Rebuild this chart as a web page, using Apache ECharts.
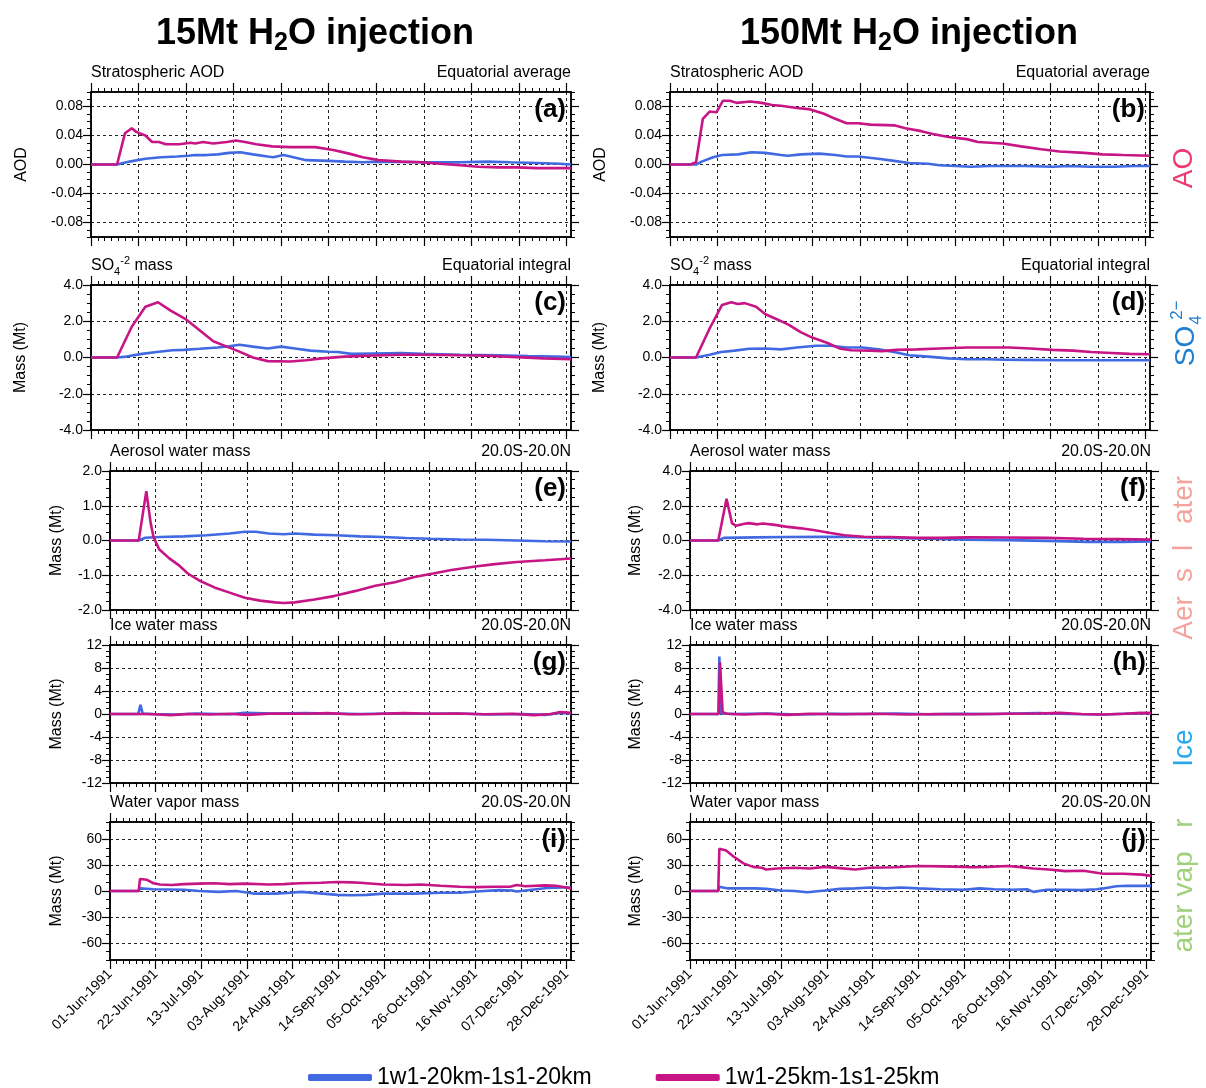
<!DOCTYPE html>
<html><head><meta charset="utf-8">
<script src="https://cdn.jsdelivr.net/npm/echarts@6/dist/echarts.min.js"></script>
<style>html,body{margin:0;padding:0;background:#fff}#c{width:1206px;height:1088px}</style>
</head><body><div id="c"></div>
<script>
// ---------------- data ----------------
const tickDays = [0,21,42,63,84,105,126,147,168,189,210];
const tickLabels = ['01-Jun-1991','22-Jun-1991','13-Jul-1991','03-Aug-1991','24-Aug-1991','14-Sep-1991','05-Oct-1991','26-Oct-1991','16-Nov-1991','07-Dec-1991','28-Dec-1991'];
const seriesNames = ['1w1-20km-1s1-20km','1w1-25km-1s1-25km'];

const yTicksAOD = [-0.08,-0.04,0,0.04,0.08];
const yTicksSO4 = [-4,-2,0,2,4];
const yTicksAW15 = [-2,-1,0,1,2];
const yTicksAW150 = [-4,-2,0,2,4];
const yTicksIce = [-12,-8,-4,0,4,8,12];
const yTicksWV = [-60,-30,0,30,60];

// [day since 01-Jun-1991, value]
const aodBlue15 = [[0,0],[11.5,0],[17,0.004],[24,0.008],[31,0.010],[38,0.011],[43,0.012],[46,0.013],[51,0.013],[56,0.014],[61,0.016],[66,0.017],[71.5,0.014],[78,0.011],[80.5,0.010],[85,0.013],[88,0.011],[95,0.006],[105,0.005],[112,0.004],[120,0.003],[128,0.004],[146,0.003],[163,0.003],[175,0.004],[185,0.003],[197,0.002],[207,0.001],[212,0]];
const aodMag15 = [[0,0],[11.5,0],[15,0.043],[18,0.050],[20,0.045],[24,0.040],[27,0.031],[30,0.031],[33,0.028],[39,0.028],[44,0.030],[46,0.029],[49.5,0.031],[54,0.029],[60,0.031],[64,0.033],[68,0.031],[73,0.028],[80,0.025],[88,0.024],[99,0.024],[107,0.020],[114,0.015],[120,0.010],[127,0.006],[137,0.004],[146,0.003],[154,0.001],[163,-0.001],[171,-0.003],[180,-0.004],[188,-0.004],[197,-0.005],[212,-0.005]];
const aodBlue150 = [[0,0],[11.5,0],[14,0.004],[19,0.010],[23,0.013],[30,0.014],[36,0.017],[42,0.016],[49,0.013],[52,0.012],[58,0.014],[66,0.015],[73,0.013],[78,0.011],[83,0.011],[92,0.008],[99,0.005],[105.6,0.002],[114,0.001],[119,-0.001],[126,-0.002],[133,-0.003],[141,-0.002],[157,-0.002],[169,-0.003],[176,-0.002],[186,-0.003],[196,-0.003],[205,-0.002],[212,-0.002]];
const aodMag150 = [[0,0],[9,0],[11.5,0.003],[14.5,0.063],[17.5,0.073],[20.5,0.072],[23.4,0.088],[26.5,0.088],[29.4,0.085],[35.4,0.087],[40.5,0.085],[45,0.082],[49,0.081],[56,0.078],[62,0.076],[68,0.070],[73,0.063],[78,0.057],[83,0.057],[88.5,0.055],[99,0.054],[104,0.050],[111,0.046],[116,0.042],[123,0.038],[131,0.035],[136,0.031],[147,0.029],[155,0.025],[164,0.021],[172,0.018],[183,0.016],[191,0.014],[200,0.013],[212,0.012]];

const so4Blue15 = [[0,0],[11.5,0],[15.7,0.05],[22.5,0.2],[29,0.3],[36,0.4],[41,0.42],[48,0.48],[56,0.55],[61,0.62],[65.6,0.7],[71.5,0.6],[78,0.5],[84,0.6],[90,0.5],[97,0.38],[105,0.32],[109,0.3],[115,0.2],[125,0.22],[137,0.24],[146,0.2],[163,0.15],[180,0.12],[193,0.08],[205,0.05],[212,0.02]];
const so4Mag15 = [[0,0],[11.5,0],[18,1.7],[24,2.8],[29.6,3.05],[35,2.6],[42,2.1],[47,1.6],[54,0.9],[60,0.6],[65,0.35],[71.5,0.0],[78,-0.2],[88,-0.22],[95,-0.15],[102,-0.05],[112,0.05],[122,0.1],[137,0.15],[146,0.15],[163,0.12],[175,0.1],[188,0.02],[200,-0.05],[212,-0.1]];
const so4Blue150 = [[0,0],[11.5,0],[17.5,0.15],[22.6,0.3],[28.6,0.38],[35,0.48],[42,0.5],[49,0.45],[56,0.55],[64.5,0.65],[71,0.65],[78,0.55],[85,0.55],[92,0.45],[99,0.3],[105.6,0.12],[114,0.05],[123,-0.05],[131,-0.1],[140,-0.1],[148,-0.12],[157,-0.13],[174,-0.15],[191,-0.15],[212,-0.15]];
const so4Mag150 = [[0,0],[11.5,0],[17.5,1.6],[23,2.9],[27,3.05],[30,2.95],[33,3.0],[38,2.8],[42,2.4],[47.4,2.1],[52.5,1.8],[57.7,1.4],[62.8,1.1],[69.6,0.8],[74.8,0.5],[80,0.4],[88.5,0.38],[93.6,0.35],[100,0.42],[109,0.45],[119,0.5],[131,0.55],[140,0.55],[150,0.55],[159,0.5],[169,0.42],[178,0.38],[186,0.3],[195,0.25],[203,0.2],[212,0.18]];

const awBlue15 = [[0,0],[13.2,0],[16.2,0.08],[23,0.1],[34,0.12],[44.6,0.15],[55,0.2],[62,0.25],[67,0.25],[73,0.2],[80,0.18],[85,0.2],[94,0.17],[104,0.15],[115,0.12],[125.7,0.1],[136,0.07],[147,0.05],[161,0.03],[173,0.02],[187,0.0],[200,-0.02],[212,-0.03]];
const awMag15 = [[0,0],[13.2,0],[16.7,1.42],[18.7,0.5],[20,0.1],[22.6,-0.25],[27,-0.5],[31.4,-0.7],[35.8,-0.95],[41,-1.15],[48,-1.35],[55,-1.5],[62,-1.65],[69,-1.73],[76,-1.78],[80,-1.8],[85,-1.78],[94,-1.7],[103,-1.6],[113,-1.45],[122,-1.3],[131,-1.2],[140,-1.05],[148.6,-0.95],[157,-0.85],[168,-0.75],[177,-0.68],[187,-0.62],[200,-0.57],[212,-0.52]];
const awBlue150 = [[0,0],[13,0],[15.5,0.15],[30,0.18],[44,0.2],[62,0.22],[74,0.2],[92,0.15],[110,0.1],[128,0.05],[146,0.02],[164,-0.02],[183,-0.08],[198,-0.08],[212,-0.05]];
const awMag150 = [[0,0],[13,0],[16.8,2.4],[19.3,1.0],[21,0.85],[24.6,0.95],[27,1.0],[31,0.93],[33.5,0.98],[39,0.9],[44,0.8],[51,0.7],[56.7,0.6],[64,0.45],[71,0.3],[80,0.22],[92,0.2],[105,0.15],[115,0.15],[128,0.18],[146,0.17],[164,0.15],[181,0.1],[197,0.08],[212,0.06]];

const iceBlue15 = [[0,0],[13,0],[14,1.6],[15,0.1],[20,0.0],[30,-0.1],[40,0.1],[55,-0.05],[62,0.2],[75,0.1],[90,0.15],[100,0.1],[115,0.0],[130,0.1],[145,0.05],[160,0.1],[175,-0.1],[190,0.0],[200,-0.15],[207,0.2],[212,0.1]];
const iceMag15 = [[0,0],[13,0],[20,-0.05],[28,-0.2],[36,0.0],[46,-0.1],[55,0.05],[63,-0.15],[75,0.1],[90,0.05],[100,0.15],[110,-0.05],[122,0.0],[135,0.15],[148,0.05],[160,0.1],[172,-0.05],[185,0.05],[195,-0.2],[203,0.0],[207,0.35],[212,0.2]];
const iceBlue150 = [[0,0],[13,0],[13.5,10],[14.3,0.1],[20,0.0],[35,0.1],[50,-0.1],[65,0.05],[80,0.0],[95,0.1],[110,-0.05],[125,0.05],[140,0.0],[160,0.15],[175,0.0],[190,-0.1],[200,0.05],[212,0.15]];
const iceMag150 = [[0,0],[13.3,0],[13.8,9],[15,0.3],[17,0.05],[25,-0.1],[35,0.05],[45,-0.15],[55,0.05],[70,-0.05],[85,0.05],[100,-0.1],[115,0.0],[130,-0.05],[145,0.05],[160,0.1],[170,0.2],[180,0.0],[190,-0.1],[200,0.05],[207,0.2],[212,0.15]];

const wvBlue15 = [[0,0],[13.2,0],[13.8,3],[20,2],[34,1.5],[41,0],[50,-1],[58,0],[66,-3],[76,-3],[83,-2],[88,-1],[95,-2.5],[104.5,-4.5],[111,-5],[118,-4.5],[125.7,-3],[140,-3],[152,-2],[161,-2],[172,0],[179,1],[185,0.5],[187,-0.5],[194,1.5],[201,3.5],[208,4],[212,4]];
const wvMag15 = [[0,0],[13.2,0],[13.8,14],[17,13],[20,9],[23,7.5],[28.4,7],[34,8],[41,8.5],[48,9],[55,8],[62,8.5],[73,7.5],[80,8],[87,9],[97,9.5],[104.5,10.5],[111,10],[115,9.5],[118,9],[125.7,7.5],[136,7],[143,7.5],[152,6],[161,5],[168,4.5],[177,5],[184,5],[187,7],[191,5.5],[200,6.5],[205,6],[210,4],[212,2.5]];
const wvBlue150 = [[0,0],[13,0],[13.5,5],[17.5,3],[30,3],[35,2.5],[42,0.5],[48,0],[54,-1.5],[62,0.5],[69,2.5],[76,3],[83,4],[90,3],[97,4],[105,3],[115,2],[126,1.5],[133,3],[140,2],[148,1.5],[155,2],[158,-1],[164,1.5],[173,1.5],[180,1],[187,2],[190,3],[196,5.5],[201,6],[208,6],[212,6]];
const wvMag150 = [[0,0],[13,0],[13.5,49],[16.6,47],[20,40],[24.6,32],[29,28],[33,27],[35,25],[40,26],[48,27],[55,26],[62,28],[69,26.5],[76,25],[83,27],[94,27.5],[105,29],[116,28.5],[126,28],[130,27.5],[137,28],[146,29],[151,28],[158,26],[165,25],[172.6,23],[181,23.5],[190,20],[199,20],[208,19],[212,17.5]];

// ---------------- layout ----------------
const FONT = 'Liberation Sans, Arial, Helvetica, sans-serif';
const BLUE = '#4169e1', MAG = '#c71585';
const XMAX = 212;
const panels = [
  {l:91, t:92, w:480, h:145, min:-0.1, max:0.1, minor:0.01, ticks:yTicksAOD, dec:2, tl:'Stratospheric AOD', tr:'Equatorial average', tag:'(a)', yt:'AOD', ytx:22, data:[aodBlue15, aodMag15]},
  {l:670, t:92, w:480, h:145, min:-0.1, max:0.1, minor:0.01, ticks:yTicksAOD, dec:2, tl:'Stratospheric AOD', tr:'Equatorial average', tag:'(b)', yt:'AOD', ytx:601, data:[aodBlue150, aodMag150]},
  {l:91, t:285, w:480, h:145, min:-4, max:4, minor:0.5, ticks:yTicksSO4, dec:1, tl:'so4', tr:'Equatorial integral', tag:'(c)', yt:'Mass (Mt)', ytx:21, data:[so4Blue15, so4Mag15]},
  {l:670, t:285, w:480, h:145, min:-4, max:4, minor:0.5, ticks:yTicksSO4, dec:1, tl:'so4', tr:'Equatorial integral', tag:'(d)', yt:'Mass (Mt)', ytx:600, data:[so4Blue150, so4Mag150]},
  {l:110, t:471, w:461, h:139, min:-2, max:2, minor:0.25, ticks:yTicksAW15, dec:1, tl:'Aerosol water mass', tr:'20.0S-20.0N', tag:'(e)', yt:'Mass (Mt)', ytx:57, data:[awBlue15, awMag15]},
  {l:690, t:471, w:461, h:139, min:-4, max:4, minor:0.5, ticks:yTicksAW150, dec:1, tl:'Aerosol water mass', tr:'20.0S-20.0N', tag:'(f)', yt:'Mass (Mt)', ytx:636, data:[awBlue150, awMag150]},
  {l:110, t:645, w:461, h:138, min:-12, max:12, minor:1, ticks:yTicksIce, dec:0, tl:'Ice water mass', tr:'20.0S-20.0N', tag:'(g)', yt:'Mass (Mt)', ytx:57, data:[iceBlue15, iceMag15]},
  {l:690, t:645, w:461, h:138, min:-12, max:12, minor:1, ticks:yTicksIce, dec:0, tl:'Ice water mass', tr:'20.0S-20.0N', tag:'(h)', yt:'Mass (Mt)', ytx:636, data:[iceBlue150, iceMag150]},
  {l:110, t:822, w:461, h:138, min:-80, max:80, minor:10, ticks:yTicksWV, dec:0, tl:'Water vapor mass', tr:'20.0S-20.0N', tag:'(i)', yt:'Mass (Mt)', ytx:57, data:[wvBlue15, wvMag15], xl:true},
  {l:690, t:822, w:461, h:138, min:-80, max:80, minor:10, ticks:yTicksWV, dec:0, tl:'Water vapor mass', tr:'20.0S-20.0N', tag:'(j)', yt:'Mass (Mt)', ytx:636, data:[wvBlue150, wvMag150], xl:true}
];

const minorX = [];
for (let d = 0; d <= 210; d += 3) minorX.push(d);

const grid = [], xAxis = [], yAxis = [], series = [], graphic = [];
const lineS = {show:true, onZero:false, lineStyle:{color:'#000', width:1.5}};
const dash = {show:true, lineStyle:{color:'#222', width:1, type:[3,3]}};

panels.forEach((p, i) => {
  grid.push({left:p.l, top:p.t, width:p.w, height:p.h, containLabel:false});
  const xb = {type:'value', gridIndex:i, min:0, max:XMAX, axisLine:lineS};
  xAxis.push(Object.assign({}, xb, {position:'bottom',
    axisTick:{show:true, length:9, customValues:tickDays, lineStyle:{color:'#000', width:1.2}},
    axisLabel:{show:!!p.xl, customValues:tickDays, rotate:45, margin:12, fontSize:14, color:'#000', fontFamily:FONT,
      formatter:v => { const k = tickDays.indexOf(Math.round(v)); return k >= 0 ? tickLabels[k] : ''; }},
    splitLine:dash}));
  xAxis.push(Object.assign({}, xb, {position:'bottom',
    axisTick:{show:true, length:4, customValues:minorX, lineStyle:{color:'#000', width:1}},
    axisLabel:{show:false}, splitLine:{show:false}}));
  xAxis.push(Object.assign({}, xb, {position:'top',
    axisTick:{show:true, length:9, customValues:tickDays, lineStyle:{color:'#000', width:1.2}},
    axisLabel:{show:false}, splitLine:{show:false}}));
  xAxis.push(Object.assign({}, xb, {position:'top',
    axisTick:{show:true, length:4, customValues:minorX, lineStyle:{color:'#000', width:1}},
    axisLabel:{show:false}, splitLine:{show:false}}));

  const yb = {type:'value', gridIndex:i, min:p.min, max:p.max, axisLine:lineS};
  yAxis.push(Object.assign({}, yb, {position:'left',
    axisTick:{show:true, length:8, customValues:p.ticks, lineStyle:{color:'#000', width:1.2}},
    axisLabel:{show:true, customValues:p.ticks, margin:8, fontSize:14, color:'#000', fontFamily:FONT,
      formatter:v => v.toFixed(p.dec)},
    splitLine:dash}));
  yAxis.push(Object.assign({}, yb, {position:'left', interval:p.minor,
    axisTick:{show:true, length:4, lineStyle:{color:'#000', width:1}},
    axisLabel:{show:false}, splitLine:{show:false}}));
  yAxis.push(Object.assign({}, yb, {position:'right',
    axisTick:{show:true, length:8, customValues:p.ticks, lineStyle:{color:'#000', width:1.2}},
    axisLabel:{show:false}, splitLine:{show:false}}));
  yAxis.push(Object.assign({}, yb, {position:'right', interval:p.minor,
    axisTick:{show:true, length:4, lineStyle:{color:'#000', width:1}},
    axisLabel:{show:false}, splitLine:{show:false}}));

  [BLUE, MAG].forEach((c, s) => {
    series.push({type:'line', name:seriesNames[s], xAxisIndex:4*i, yAxisIndex:4*i, data:p.data[s],
      showSymbol:false, symbol:'none', color:c, lineStyle:{color:c, width:2.6}, z:3+s, animation:false});
  });

  const ty = p.t - 19;
  if (p.tl === 'so4') {
    graphic.push({type:'text', x:p.l, y:ty, style:{
      text:'{n|SO}{b|4}{u|-2}{n| mass}', align:'left', verticalAlign:'middle', textAlign:'left', textVerticalAlign:'middle',
      rich:{n:{fontSize:16, fontFamily:FONT, fill:'#000', lineHeight:22, verticalAlign:'middle'},
            b:{fontSize:11, fontFamily:FONT, fill:'#000', verticalAlign:'bottom', lineHeight:11},
            u:{fontSize:11, fontFamily:FONT, fill:'#000', verticalAlign:'top', lineHeight:11}}}});
  } else {
    graphic.push({type:'text', x:p.l, y:ty, style:{text:p.tl, fontSize:16, fontFamily:FONT, fill:'#000',
      align:'left', verticalAlign:'middle', textAlign:'left', textVerticalAlign:'middle'}});
  }
  graphic.push({type:'text', x:p.l + p.w, y:ty, style:{text:p.tr, fontSize:16, fontFamily:FONT, fill:'#000',
    align:'right', verticalAlign:'middle', textAlign:'right', textVerticalAlign:'middle'}});
  graphic.push({type:'text', x:p.l + p.w - 5, y:p.t + 18, z:10, style:{text:p.tag, fontSize:26, fontWeight:'bold', fontFamily:FONT, fill:'#000',
    align:'right', verticalAlign:'middle', textAlign:'right', textVerticalAlign:'middle'}});
  graphic.push({type:'text', x:p.ytx, y:p.t + p.h/2, rotation:Math.PI/2, style:{text:p.yt, fontSize:16, fontFamily:FONT, fill:'#000',
    align:'center', verticalAlign:'middle', textAlign:'center', textVerticalAlign:'middle'}});
});

const mainRich = {
  a:{fontSize:36, fontWeight:'bold', fontFamily:FONT, fill:'#000', verticalAlign:'bottom', padding:[0,0,4,0]},
  s:{fontSize:25, fontWeight:'bold', fontFamily:FONT, fill:'#000', verticalAlign:'bottom'}
};
graphic.push({type:'text', x:315, y:36, style:{text:'{a|15Mt H}{s|2}{a|O injection}', rich:mainRich,
  align:'center', verticalAlign:'middle', textAlign:'center', textVerticalAlign:'middle'}});
graphic.push({type:'text', x:909, y:36, style:{text:'{a|150Mt H}{s|2}{a|O injection}', rich:mainRich,
  align:'center', verticalAlign:'middle', textAlign:'center', textVerticalAlign:'middle'}});

// right-side coloured variable labels (as they appear, with missing glyphs)
function sideText(txt, x, y, size, color) {
  graphic.push({type:'text', x:x, y:y, rotation:Math.PI/2, style:{text:txt, fontSize:size, fontFamily:FONT, fill:color,
    align:'center', verticalAlign:'middle', textAlign:'center', textVerticalAlign:'middle'}});
}
sideText('AO', 1184, 168, 28, '#ee3a6f');
const SOC = '#1f7fd0';
sideText('SO', 1186, 346, 28, SOC);
sideText('2\u2212', 1177, 310, 17, SOC);
sideText('4', 1196, 320, 17, SOC);
sideText('Aer', 1184, 618, 28, '#f4a49c');
sideText('s', 1184, 575, 28, '#f4a49c');
sideText('l', 1184, 548, 28, '#f4a49c');
sideText('ater', 1184, 500, 28, '#f4a49c');
sideText('Ice', 1184, 748, 28, '#27a8ec');
sideText('ater vap', 1184, 902, 28, '#9fd07a');
sideText('r', 1184, 823, 28, '#9fd07a');

const option = {
  animation:false,
  backgroundColor:'#fff',
  grid, xAxis, yAxis, series, graphic,
  legend:{left:308, top:1066, itemWidth:64, itemHeight:7, itemGap:64, icon:'roundRect', padding:0,
    data:seriesNames, textStyle:{fontSize:23, color:'#000', fontFamily:FONT}, selectedMode:false}
};
const chart = echarts.init(document.getElementById('c'), null, {renderer:'canvas'});
chart.setOption(option);
</script>
</body></html>
